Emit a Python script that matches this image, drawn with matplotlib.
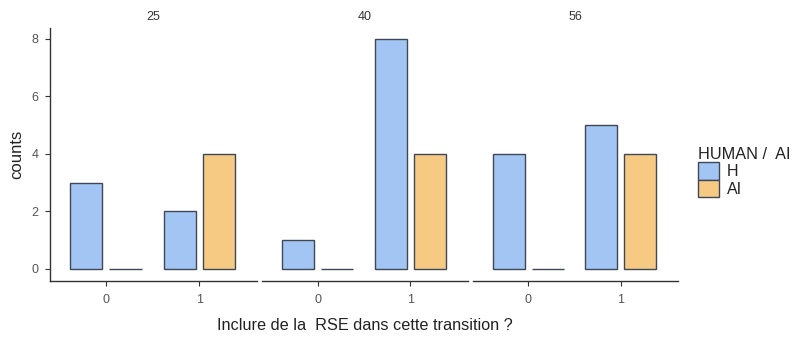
import matplotlib
matplotlib.use("Agg")
import matplotlib.pyplot as plt
from matplotlib.patches import Patch
import numpy as np

plt.rcParams['font.family'] = ['Liberation Sans', 'DejaVu Sans']

facets = ["25", "40", "56"]
categories = ["0", "1"]
groups = ["H", "AI"]
h_counts = {"25": [3, 2], "40": [1, 8], "56": [4, 5]}
ai_counts = {"25": [0, 4], "40": [0, 4], "56": [0, 4]}
colors = {"H": "#a3c5f4", "AI": "#f6ca83"}
edge = "#3f4756"
yticks = [0, 2, 4, 6, 8]

W, H = 796, 338
fig = plt.figure(figsize=(W / 100, H / 100), dpi=100)

panel_px = [(50, 257), (262, 468), (473, 678)]
top_px, bot_px = 28, 281
axes = []
for i, (fc, (l, r)) in enumerate(zip(facets, panel_px)):
    ax = fig.add_axes([l / W, (H - bot_px) / H, (r - l) / W, (bot_px - top_px) / H])
    axes.append(ax)
    x = np.arange(len(categories))
    width = 0.345
    off = 0.21
    ax.bar(x - off, h_counts[fc], width, color=colors["H"], edgecolor=edge, linewidth=1.0)
    ax.bar(x + off, ai_counts[fc], width, color=colors["AI"], edgecolor=edge, linewidth=1.0)
    ax.set_xlim(-0.6, 1.62)
    ax.set_ylim(-0.42, 8.38)
    ax.set_xticks(x)
    ax.set_xticklabels(categories)
    for s in ["top", "right"]:
        ax.spines[s].set_visible(False)
    ax.spines["bottom"].set_color("#333333")
    ax.spines["bottom"].set_linewidth(1.0)
    ax.tick_params(axis="x", length=3.5, color="#333333", labelsize=9, labelcolor="#555555", pad=6)
    if i == 0:
        ax.set_yticks(yticks)
        ax.spines["left"].set_color("#333333")
        ax.spines["left"].set_linewidth(1.0)
        ax.tick_params(axis="y", length=3.5, color="#333333", labelsize=9, labelcolor="#555555", pad=5)
        ax.set_ylabel("counts", fontsize=12, color="#222222", labelpad=5)
    else:
        ax.spines["left"].set_visible(False)
        ax.set_yticks([])
    fig.text(((l + r) / 2) / W, (H - 17) / H, fc, ha="center", va="center", fontsize=9, color="#333333")

fig.text(365 / W, (H - 325) / H, "Inclure de la  RSE dans cette transition ?", ha="center", va="center",
         fontsize=11.7, color="#222222")

handles = [Patch(facecolor=colors[g], edgecolor=edge, linewidth=1.0) for g in groups]
leg = fig.legend(handles, groups, title="HUMAN /  AI", loc="upper left",
                 bbox_to_anchor=(692 / W, (H - 141) / H), frameon=False, fontsize=11.5,
                 title_fontsize=11.7, handlelength=1.3, handleheight=1.3, handletextpad=0.5,
                 labelspacing=0.0, borderaxespad=0)
leg._legend_box.align = "left"
for t in leg.get_texts():
    t.set_color("#222222")
leg.get_title().set_color("#222222")

fig.savefig("out.png", dpi=100)
